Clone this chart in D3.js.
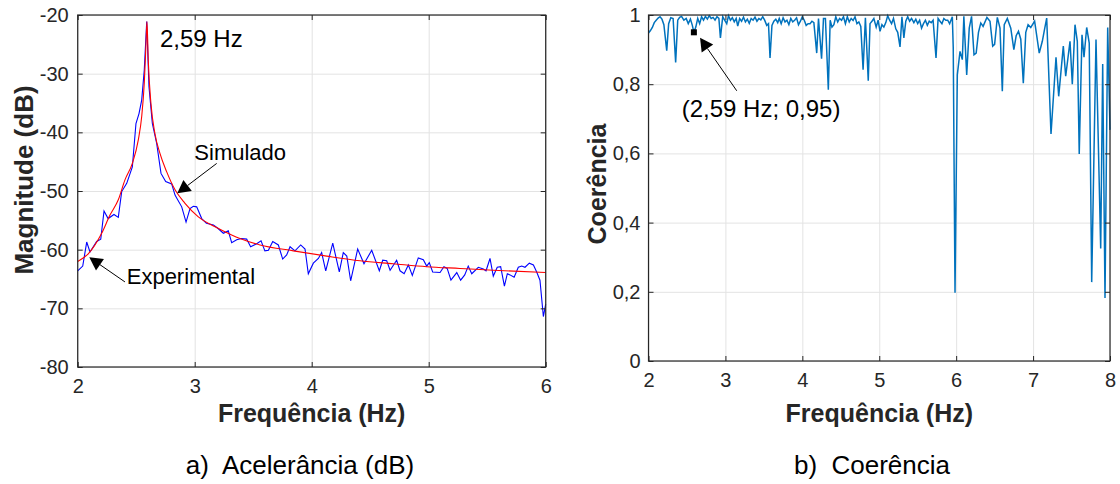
<!DOCTYPE html>
<html>
<head>
<meta charset="utf-8">
<script src="https://cdn.jsdelivr.net/npm/d3@7"></script>
<style>
  html, body { margin: 0; padding: 0; background: #ffffff; }
  svg { display: block; font-family: "Liberation Sans", Arial, Helvetica, sans-serif; }
</style>
</head>
<body>
<svg id="chart" width="1120" height="484"></svg>
<script>
// ---------- DATA ----------
// a) Acelerância (dB) — experimental (blue)
const expFreq = [2.000, 2.043, 2.077, 2.105, 2.162, 2.197, 2.225, 2.260, 2.310, 2.347,
  2.376, 2.419, 2.467, 2.498, 2.524, 2.547, 2.569, 2.590, 2.609, 2.638,
  2.675, 2.712, 2.752, 2.803, 2.832, 2.846, 2.889, 2.926, 2.960, 2.988,
  3.017, 3.060, 3.100, 3.160, 3.200, 3.245, 3.287, 3.316, 3.359, 3.400,
  3.444, 3.478, 3.530, 3.567, 3.600, 3.630, 3.667, 3.715, 3.752, 3.786,
  3.815, 3.857, 3.906, 3.943, 3.971, 4.014, 4.057, 4.085, 4.120, 4.180,
  4.236, 4.270, 4.300, 4.333, 4.393, 4.447, 4.513, 4.578, 4.607, 4.641,
  4.670, 4.726, 4.755, 4.790, 4.826, 4.860, 4.911, 4.954, 4.983, 5.005,
  5.034, 5.097, 5.130, 5.158, 5.190, 5.240, 5.273, 5.308, 5.338, 5.368,
  5.424, 5.467, 5.490, 5.524, 5.552, 5.586, 5.615, 5.647, 5.672, 5.695,
  5.730, 5.766, 5.795, 5.823, 5.860, 5.895, 5.923, 5.951, 5.980, 6.000];
const expDb = [-63.6, -62.8, -58.7, -60.4, -58.6, -58.2, -53.4, -54.7, -54.0, -54.5,
  -50.1, -48.7, -45.9, -38.5, -36.8, -34.5, -29.4, -21.1, -32.2, -38.5,
  -41.9, -47.0, -48.4, -48.8, -50.7, -51.2, -52.7, -55.3, -53.0, -52.6,
  -52.7, -54.7, -55.5, -55.8, -56.4, -57.2, -56.8, -58.8, -58.3, -58.1,
  -58.2, -59.5, -59.0, -58.5, -60.2, -60.1, -58.6, -59.2, -61.6, -60.9,
  -59.5, -60.2, -59.2, -59.9, -64.1, -62.3, -61.5, -60.5, -63.6, -58.9,
  -63.8, -60.5, -61.1, -65.3, -59.9, -62.4, -60.1, -63.6, -61.8, -61.9,
  -63.5, -61.8, -63.6, -64.1, -62.6, -64.4, -61.4, -61.7, -62.8, -62.2,
  -63.8, -63.9, -62.9, -63.2, -65.2, -63.9, -65.2, -64.3, -62.8, -64.1,
  -63.0, -63.3, -63.6, -61.5, -64.5, -63.0, -62.9, -66.2, -64.1, -64.3,
  -64.7, -63.0, -62.8, -63.0, -62.3, -62.6, -63.8, -65.2, -71.4, -69.3];

// a) Acelerância (dB) — simulated (red)
const simFreq = [2.000, 2.090, 2.205, 2.276, 2.347, 2.404, 2.467, 2.518, 2.547, 2.569,
  2.584, 2.592, 2.603, 2.626, 2.660, 2.703, 2.760, 2.832, 2.917, 3.031,
  3.174, 3.316, 3.387, 3.558, 3.843, 4.128, 4.413, 4.697, 4.983, 5.267,
  5.552, 6.000];
const simDb = [-62.0, -60.7, -57.2, -54.1, -51.5, -48.1, -45.3, -41.3, -37.3, -31.6,
  -24.8, -21.1, -27.7, -35.1, -40.2, -43.6, -46.7, -49.8, -52.1, -54.4,
  -56.1, -57.5, -58.1, -59.2, -60.2, -61.1, -61.9, -62.4, -62.9, -63.2,
  -63.5, -63.9];

// b) Coerência
const cohFreq = [2.000, 2.025, 2.050, 2.075, 2.100, 2.125, 2.150, 2.175, 2.200, 2.237,
  2.262, 2.290, 2.320, 2.353, 2.380, 2.405, 2.430, 2.460, 2.490, 2.517,
  2.545, 2.570, 2.590, 2.615, 2.640, 2.665, 2.690, 2.715, 2.740, 2.765,
  2.790, 2.815, 2.840, 2.865, 2.890, 2.915, 2.935, 2.965, 2.990, 3.017,
  3.040, 3.065, 3.090, 3.115, 3.140, 3.160, 3.185, 3.210, 3.235, 3.260,
  3.285, 3.310, 3.335, 3.360, 3.385, 3.410, 3.435, 3.460, 3.485, 3.510,
  3.537, 3.560, 3.580, 3.605, 3.630, 3.655, 3.680, 3.700, 3.725, 3.750,
  3.775, 3.800, 3.825, 3.850, 3.875, 3.900, 3.925, 3.950, 3.975, 4.000,
  4.025, 4.050, 4.075, 4.100, 4.125, 4.150, 4.187, 4.210, 4.250, 4.275,
  4.300, 4.338, 4.362, 4.385, 4.410, 4.435, 4.460, 4.485, 4.510, 4.535,
  4.560, 4.585, 4.610, 4.635, 4.660, 4.685, 4.710, 4.735, 4.760, 4.790,
  4.820, 4.857, 4.880, 4.905, 4.930, 4.960, 4.985, 5.010, 5.035, 5.060,
  5.085, 5.110, 5.135, 5.160, 5.185, 5.215, 5.240, 5.270, 5.295, 5.320,
  5.345, 5.370, 5.395, 5.420, 5.450, 5.475, 5.500, 5.525, 5.550, 5.575,
  5.600, 5.625, 5.650, 5.675, 5.700, 5.738, 5.765, 5.790, 5.815, 5.840,
  5.865, 5.890, 5.915, 5.950, 5.962, 5.985, 6.015, 6.050, 6.080, 6.100,
  6.137, 6.170, 6.200, 6.232, 6.260, 6.290, 6.320, 6.350, 6.400, 6.440,
  6.475, 6.500, 6.535, 6.570, 6.600, 6.625, 6.665, 6.710, 6.750, 6.780,
  6.810, 6.840, 6.873, 6.905, 6.935, 6.970, 7.020, 7.080, 7.120, 7.150,
  7.177, 7.233, 7.298, 7.333, 7.393, 7.424, 7.480, 7.510, 7.545, 7.575,
  7.600, 7.636, 7.662, 7.697, 7.730, 7.762, 7.818, 7.879, 7.905, 7.935,
  7.970, 8.000];
const cohVal = [0.948, 0.955, 0.964, 0.978, 0.985, 0.991, 0.995, 0.988, 0.972, 0.897,
  0.975, 0.992, 0.990, 0.863, 0.985, 0.993, 0.996, 0.985, 0.990, 0.975,
  0.988, 0.970, 0.950, 0.965, 0.990, 0.975, 0.995, 0.985, 0.996, 0.988,
  0.998, 0.990, 0.993, 0.985, 0.995, 0.990, 0.934, 0.995, 0.985, 0.975,
  0.998, 0.985, 0.992, 0.980, 0.990, 0.968, 0.990, 0.982, 0.994, 0.980,
  0.988, 0.976, 0.990, 0.985, 0.994, 0.982, 0.990, 0.986, 0.995, 0.985,
  0.970, 0.975, 0.876, 0.970, 0.982, 0.988, 0.978, 0.990, 0.975, 0.992,
  0.980, 0.985, 0.972, 0.990, 0.980, 0.985, 0.992, 0.972, 0.982, 0.995,
  0.985, 0.970, 0.975, 0.975, 0.982, 0.978, 0.890, 0.990, 0.874, 0.990,
  0.990, 0.784, 0.985, 0.965, 0.972, 0.995, 0.980, 0.990, 0.985, 0.995,
  0.975, 0.995, 0.980, 0.990, 0.984, 0.995, 0.975, 0.980, 0.967, 0.842,
  0.992, 0.810, 0.975, 0.982, 0.990, 0.965, 0.985, 0.953, 0.972, 0.965,
  0.978, 0.998, 0.985, 0.975, 0.990, 0.960, 0.950, 0.908, 0.995, 0.934,
  0.982, 0.995, 0.982, 0.990, 0.978, 0.988, 0.975, 0.985, 0.962, 0.975,
  0.985, 0.970, 0.982, 0.978, 0.985, 0.876, 0.990, 0.982, 0.975, 0.990,
  0.985, 0.985, 0.975, 0.995, 0.905, 0.197, 0.827, 0.895, 0.871, 0.996,
  0.827, 0.962, 0.996, 0.885, 0.890, 0.950, 0.977, 0.967, 0.993, 0.982,
  0.910, 0.915, 0.993, 0.962, 0.780, 0.972, 0.990, 0.962, 0.900, 0.940,
  0.953, 0.930, 0.803, 0.950, 0.972, 0.964, 0.982, 0.890, 0.924, 0.960,
  0.991, 0.656, 0.878, 0.765, 0.910, 0.823, 0.924, 0.800, 0.972, 0.924,
  0.598, 0.943, 0.878, 0.964, 0.919, 0.228, 0.929, 0.325, 0.858, 0.182,
  0.964, 0.668];

// tick values / labels
const magTicksX = [2, 3, 4, 5, 6];
const magTicksY = [-80, -70, -60, -50, -40, -30, -20];
const cohTicksX = [2, 3, 4, 5, 6, 7, 8];
const cohTicksY = [0, 0.2, 0.4, 0.6, 0.8, 1];

// annotations (data coordinates)
const peakLabel = { text: "2,59 Hz", f: 2.703, v: -25.5 };
const simArrow = { text: "Simulado", tf: 2.997, tv: -44.7, f0: 3.188, v0: -45.3, f1: 2.851, v1: -50.4 };
const expArrow = { text: "Experimental", tf: 2.419, tv: -65.9, f0: 2.404, v0: -65.5, f1: 2.099, v1: -61.3 };
const cohPoint = { text: "(2,59 Hz; 0,95)", f: 2.59, v: 0.95, tf: 2.432, tv: 0.706, f0: 3.147, v0: 0.781, f1: 2.67, v1: 0.934 };

// ---------- DRAW ----------
const svg = d3.select("#chart");
svg.append("rect").attr("width", 1120).attr("height", 484).attr("fill", "#fff");

const AX = "#262626", GRID = "#e3e3e3";
const plainFmt = d => String(d);                 // ASCII hyphen minus, as in the reference
const commaFmt = d => String(d).replace(".", ",");

function panel(cfg) {
  const { x, y, ticksX, ticksY, fmtY } = cfg;
  const [x0, x1] = x.range(), [y0, y1] = y.range(); // y0 bottom, y1 top
  const W = x1 - x0, H = y0 - y1;
  const g = svg.append("g");
  // grid
  g.append("g").attr("transform", `translate(0,${y0})`)
    .call(d3.axisBottom(x).tickValues(ticksX).tickSize(-H).tickFormat(""))
    .call(s => s.select(".domain").remove())
    .call(s => s.selectAll("line").attr("stroke", GRID).attr("stroke-width", 1));
  g.append("g").attr("transform", `translate(${x0},0)`)
    .call(d3.axisLeft(y).tickValues(ticksY).tickSize(-W).tickFormat(""))
    .call(s => s.select(".domain").remove())
    .call(s => s.selectAll("line").attr("stroke", GRID).attr("stroke-width", 1));
  const data = g.append("g");
  const axes = g.append("g");
  const style = s => {
    s.select(".domain").remove();
    s.selectAll("line").attr("stroke", AX).attr("stroke-width", 1);
    s.selectAll("text").attr("fill", AX).attr("font-size", 20)
      .attr("font-family", '"Liberation Sans", Arial, sans-serif');
  };
  axes.append("g").attr("transform", `translate(0,${y0})`)
    .call(d3.axisBottom(x).tickValues(ticksX).tickSizeInner(-5).tickSizeOuter(0).tickPadding(12).tickFormat(plainFmt))
    .call(style);
  axes.append("g").attr("transform", `translate(0,${y1})`)
    .call(d3.axisTop(x).tickValues(ticksX).tickSizeInner(-5).tickSizeOuter(0).tickFormat(""))
    .call(style);
  axes.append("g").attr("transform", `translate(${x0},0)`)
    .call(d3.axisLeft(y).tickValues(ticksY).tickSizeInner(-5).tickSizeOuter(0).tickPadding(cfg.padY).tickFormat(fmtY))
    .call(style);
  axes.append("g").attr("transform", `translate(${x1},0)`)
    .call(d3.axisRight(y).tickValues(ticksY).tickSizeInner(-5).tickSizeOuter(0).tickFormat(""))
    .call(style);
  axes.append("rect").attr("x", x0).attr("y", y1).attr("width", W).attr("height", H)
    .attr("fill", "none").attr("stroke", AX).attr("stroke-width", 1.2);
  return { data, axes, g };
}

// ---- panel a ----
const xa = d3.scaleLinear().domain([2, 6]).range([77.7, 545.7]);
const ya = d3.scaleLinear().domain([-80, -20]).range([367, 15]);
const pa = panel({ x: xa, y: ya, ticksX: magTicksX, ticksY: magTicksY, fmtY: plainFmt, padY: 9 });

const expData = expFreq.map((f, i) => [f, expDb[i]]);
const simData = simFreq.map((f, i) => [f, simDb[i]]);
pa.data.append("path").datum(expData)
  .attr("d", d3.line().x(d => xa(d[0])).y(d => ya(d[1])))
  .attr("fill", "none").attr("stroke", "#0000ff").attr("stroke-width", 1.1);
pa.data.append("path").datum(simData)
  .attr("d", d3.line().curve(d3.curveMonotoneX).x(d => xa(d[0])).y(d => ya(d[1])))
  .attr("fill", "none").attr("stroke", "#ff0000").attr("stroke-width", 1.1);

// ---- panel b ----
const xb = d3.scaleLinear().domain([2, 8]).range([648.5, 1110]);
const yb = d3.scaleLinear().domain([0, 1]).range([361, 15]);
const pb = panel({ x: xb, y: yb, ticksX: cohTicksX, ticksY: cohTicksY, fmtY: commaFmt, padY: 8 });
const cohData = cohFreq.map((f, i) => [f, cohVal[i]]);
pb.data.append("path").datum(cohData)
  .attr("d", d3.line().x(d => xb(d[0])).y(d => yb(d[1])))
  .attr("fill", "none").attr("stroke", "#0072BD").attr("stroke-width", 1.5);

// ---------- annotations ----------
const ann = svg.append("g");
function arrow(xs, ys, a) {
  const X0 = xs(a.f0), Y0 = ys(a.v0), X1 = xs(a.f1), Y1 = ys(a.v1);
  const dx = X1 - X0, dy = Y1 - Y0, L = Math.hypot(dx, dy);
  const ux = dx / L, uy = dy / L, hl = 13, hw = 7;
  const bx = X1 - ux * hl, by = Y1 - uy * hl;
  ann.append("line").attr("x1", X0).attr("y1", Y0).attr("x2", bx).attr("y2", by)
    .attr("stroke", "#000").attr("stroke-width", 1);
  ann.append("path")
    .attr("d", `M${X1},${Y1}L${bx - uy * hw},${by + ux * hw}L${bx + uy * hw},${by - ux * hw}Z`)
    .attr("fill", "#000");
}
arrow(xa, ya, simArrow);
arrow(xa, ya, expArrow);
arrow(xb, yb, cohPoint);

ann.append("text").attr("x", xa(peakLabel.f)).attr("y", ya(peakLabel.v))
  .attr("font-size", 24).attr("fill", "#000").text(peakLabel.text);
ann.append("text").attr("x", xa(simArrow.tf)).attr("y", ya(simArrow.tv))
  .attr("font-size", 22).attr("fill", "#000").text(simArrow.text);
ann.append("text").attr("x", xa(expArrow.tf)).attr("y", ya(expArrow.tv))
  .attr("font-size", 22).attr("fill", "#000").text(expArrow.text);
ann.append("rect").attr("x", xb(cohPoint.f) - 3).attr("y", yb(cohPoint.v) - 3)
  .attr("width", 6).attr("height", 6).attr("fill", "#000");
ann.append("text").attr("x", xb(cohPoint.tf)).attr("y", yb(cohPoint.tv))
  .attr("font-size", 24).attr("fill", "#000").text(cohPoint.text);

// ---------- axis titles & captions ----------
const T = svg.append("g").attr("fill", "#262626");
T.append("text").attr("x", 311.7).attr("y", 422).attr("text-anchor", "middle")
  .attr("font-size", 25).attr("font-weight", "bold").text("Frequência (Hz)");
T.append("text").attr("x", 879.3).attr("y", 422).attr("text-anchor", "middle")
  .attr("font-size", 25).attr("font-weight", "bold").text("Frequência (Hz)");
T.append("text").attr("transform", "translate(33,180) rotate(-90)").attr("text-anchor", "middle")
  .attr("font-size", 26).attr("font-weight", "bold").text("Magnitude (dB)");
T.append("text").attr("transform", "translate(606,184) rotate(-90)").attr("text-anchor", "middle")
  .attr("font-size", 25).attr("font-weight", "bold").text("Coerência");

svg.append("text").attr("x", 300).attr("y", 474).attr("text-anchor", "middle")
  .attr("font-size", 26).attr("fill", "#000").style("white-space", "pre").text("a)  Acelerância (dB)");
svg.append("text").attr("x", 872).attr("y", 474).attr("text-anchor", "middle")
  .attr("font-size", 26).attr("fill", "#000").style("white-space", "pre").text("b)  Coerência");
</script>
</body>
</html>
